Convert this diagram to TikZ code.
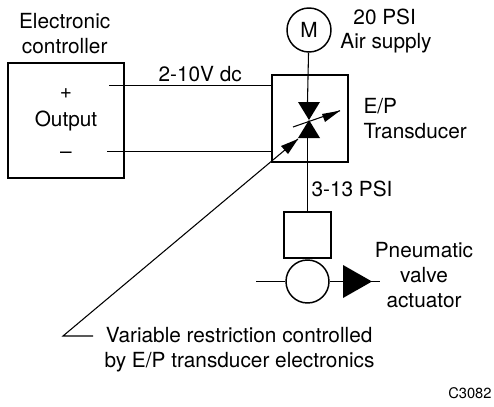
\documentclass[tikz,border=0pt]{standalone}
\usepackage{fontspec}
\setmainfont{TeX Gyre Heros}
\begin{document}
\begin{tikzpicture}[x=0.75pt,y=-0.75pt,line width=0.8pt,
  txt/.style={inner sep=0pt,anchor=base,font=\fontsize{15.6}{18.75}\selectfont,align=center},
  txtw/.style={inner sep=0pt,anchor=base west,font=\fontsize{15.6}{18.75}\selectfont,align=left},
  box/.style={draw,line width=1.2pt,inner sep=0pt},
  fillblk/.style={fill=black,draw=none}]
\useasboundingbox (0,0) rectangle (494,407);
\node[box,minimum width=116*0.75pt,minimum height=115*0.75pt] (ctrl) at (66,120.5) {};
\node[box,minimum width=76*0.75pt,minimum height=87*0.75pt] (trans) at (310,118.5) {};
\node[draw,circle,line width=1.1pt,minimum size=44*0.75pt,inner sep=0pt,font=\fontsize{15.6}{18}\selectfont] (motor) at (309,30) {M};
\node[box,minimum width=47*0.75pt,minimum height=46*0.75pt] (act) at (307.5,235) {};
\node[draw,circle,line width=1.1pt,minimum size=43*0.75pt,inner sep=0pt] (vc) at (307.5,281.5) {};
\coordinate (cplus) at (109,85.5);
\coordinate (cminus) at (107,151.5);
\coordinate (tplus) at (272,85.5);
\coordinate (tminus) at (272,151.5);
\coordinate (top) at (307.5,102);
\coordinate (vbot) at (307.5,138);
\coordinate (vl) at (256,281.5);
\coordinate (tri) at (380,281.5);
\coordinate (lead) at (63,336);
\coordinate (leadh) at (93,336);
\coordinate (tip) at (298,139);
\coordinate (s1) at (293,127);
\coordinate (s2) at (340,110.7);
\draw (cplus) -- (tplus);
\draw (cminus) -- (tminus);
\draw (motor) -- (top);
\draw (vbot) -- (act.north);
\draw (vl) -- (vc);
\draw (vc) -- (tri);
\draw (leadh) -- (lead) -- (tip);
\draw (s1) -- (s2);
\fill[fillblk] (298,102) -- (320,102) -- (309,120) -- cycle;
\fill[fillblk] (298,138) -- (320,138) -- (309,120) -- cycle;
\fill[fillblk] (340,110.7) -- (322,114) -- (325,122) -- cycle;
\fill[fillblk] (298,139) -- (281,146) -- (288,154) -- cycle;
\fill[fillblk] (343,265) -- (372,281.5) -- (343,298) -- cycle;
\node[txt] (t1) at (64.7,53) {Electronic\\controller};
\node[txt] (t2) at (66,98.5) {+};
\node[txt] (t3) at (66,127) {Output};
\node[txt] (t4) at (66,158) {–};
\node[txt,anchor=base west] (t5) at (158,81.7) {2-10V dc};
\node[txt] (t6) at (386,49) {\hspace*{-2pt}20 PSI\\Air supply};
\node[txtw] (t7) at (363,138) {E/P\\Transducer};
\node[txtw] (t8) at (311,196.7) {3-13 PSI};
\node[txt] (t9) at (424,307) {Pneumatic\\valve\\actuator};
\node[txtw] (t10) at (104,367) {\hspace*{1pt}Variable restriction controlled\\by E/P transducer electronics};
\node[inner sep=0pt,anchor=base east,font=\fontsize{11}{13}\selectfont] (t11) at (492,398.5) {C3082};
\end{tikzpicture}
\end{document}
